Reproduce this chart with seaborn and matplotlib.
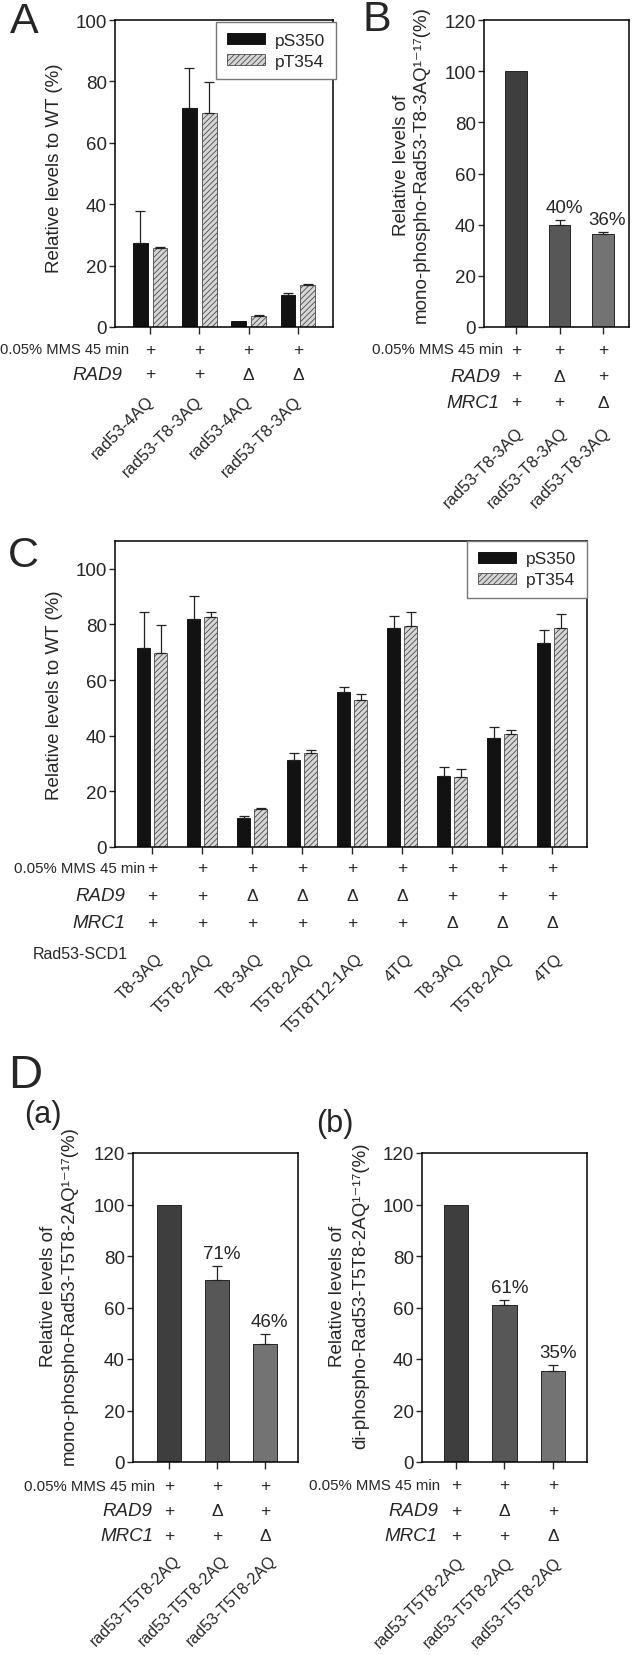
import numpy as np
import pandas as pd
import matplotlib
matplotlib.use("Agg")
import matplotlib.pyplot as plt
import matplotlib.transforms as mtransforms
from matplotlib.container import BarContainer
import seaborn as sns

# ---- data ----
sites = ["pS350", "pT354"]

A_strains = ["rad53-4AQ", "rad53-T8-3AQ", "rad53-4AQ", "rad53-T8-3AQ"]
A_rad9 = ["+", "+", "Δ", "Δ"]
A_ps350 = [27.4, 71.4, 2.0, 10.4]
A_ps350_err = [10.3, 13.1, 0.0, 0.7]
A_pt354 = [25.8, 69.8, 3.6, 13.7]
A_pt354_err = [0.4, 10.1, 0.4, 0.2]

B_strains = ["rad53-T8-3AQ", "rad53-T8-3AQ", "rad53-T8-3AQ"]
B_rad9 = ["+", "Δ", "+"]
B_mrc1 = ["+", "+", "Δ"]
B_vals = [100, 40.0, 36.5]
B_err = [0.0, 2.0, 0.8]
B_pct = ["", "40%", "36%"]

C_scd1 = ["T8-3AQ", "T5T8-2AQ", "T8-3AQ", "T5T8-2AQ", "T5T8T12-1AQ",
          "4TQ", "T8-3AQ", "T5T8-2AQ", "4TQ"]
C_rad9 = ["+", "+", "Δ", "Δ", "Δ", "Δ", "+", "+", "+"]
C_mrc1 = ["+", "+", "+", "+", "+", "+", "Δ", "Δ", "Δ"]
C_ps350 = [71.4, 81.9, 10.4, 31.2, 55.6, 78.9, 25.6, 39.3, 73.2]
C_ps350_err = [13.1, 8.5, 0.7, 2.6, 2.0, 4.3, 3.2, 4.0, 4.8]
C_pt354 = [69.8, 82.7, 13.7, 33.8, 52.9, 79.4, 25.0, 40.7, 78.8]
C_pt354_err = [10.1, 1.8, 0.2, 1.2, 2.1, 5.1, 3.2, 1.2, 4.8]

D_strains = ["rad53-T5T8-2AQ", "rad53-T5T8-2AQ", "rad53-T5T8-2AQ"]
D_rad9 = ["+", "Δ", "+"]
D_mrc1 = ["+", "+", "Δ"]
Da_vals = [100, 70.8, 45.8]
Da_err = [0.0, 5.3, 3.9]
Da_pct = ["", "71%", "46%"]
Db_vals = [100, 60.8, 35.2]
Db_err = [0.0, 2.2, 2.4]
Db_pct = ["", "61%", "35%"]

single_colors = ["#3e3e3e", "#575757", "#737373"]
MMS = "0.05% MMS 45 min"

sns.set_style("ticks")
plt.rcParams["font.family"] = ["Liberation Sans", "DejaVu Sans"]
plt.rcParams["hatch.linewidth"] = 0.6
plt.rcParams["hatch.color"] = "#4a4a4a"

W, H = 633, 1656
fig = plt.figure(figsize=(W / 100, H / 100), dpi=100)


def px_axes(l, t, r, b):
    return fig.add_axes([l / W, 1 - b / H, (r - l) / W, (b - t) / H])


def style_axes(ax, xlim, ymax, yticks):
    ax.set_xlim(xlim)
    ax.set_ylim(0, ymax)
    ax.set_yticks(yticks)
    for sp in ax.spines.values():
        sp.set_visible(True)
        sp.set_linewidth(1.1)
        sp.set_color("black")
    ax.tick_params(axis="x", length=5, width=1, labelbottom=False)
    ax.tick_params(axis="y", length=4, width=1, labelsize=13.5, pad=2)
    ax.set_xlabel("")
    ax.set_ylabel("")


def draw_err(ax, patches, errs):
    for p, e in zip(patches, errs):
        if e <= 0:
            continue
        x = p.get_x() + p.get_width() / 2
        ax.errorbar([x], [p.get_height()], yerr=[[0], [e]], fmt="none",
                    ecolor="#222222", elinewidth=0.9, capsize=3.5, capthick=0.9)


def add_errors(ax, err_lists):
    bars = [c for c in ax.containers if isinstance(c, BarContainer)]
    for cont, errs in zip(bars, err_lists):
        draw_err(ax, list(cont), errs)


def add_errors_single(ax, errs):
    # one container per hue level here, so gather all bars in x order
    patches = [p for c in ax.containers if isinstance(c, BarContainer) for p in c]
    patches.sort(key=lambda p: p.get_x())
    draw_err(ax, patches, errs)


def grouped(ax, s1, s2, width, gap):
    n = len(s1)
    df = pd.DataFrame({"pos": list(range(n)) * 2,
                       "site": [sites[0]] * n + [sites[1]] * n,
                       "level": s1 + s2})
    sns.barplot(data=df, x="pos", y="level", hue="site", hue_order=sites,
                palette={sites[0]: "#121212", sites[1]: "#d6d6d6"},
                width=width, gap=gap, errorbar=None, legend=False, ax=ax,
                linewidth=0.6)
    bars = [c for c in ax.containers if isinstance(c, BarContainer)]
    for p in bars[0]:
        p.set_edgecolor("#000000")
    for p in bars[1]:
        p.set_edgecolor("#4a4a4a")
        p.set_hatch("//////")
    return bars


def single(ax, vals):
    df = pd.DataFrame({"pos": [str(i) for i in range(len(vals))], "level": vals})
    sns.barplot(data=df, x="pos", y="level", hue="pos", palette=single_colors,
                width=0.5, errorbar=None, legend=False, ax=ax,
                edgecolor="#252525", linewidth=0.7)


def add_legend(ax, bars, anchor):
    ax.legend([bars[0], bars[1]], sites, loc="upper right", bbox_to_anchor=anchor,
              borderaxespad=0, fontsize=12.5, fancybox=False, framealpha=1,
              edgecolor="#777777", handlelength=2.2, handleheight=0.55,
              borderpad=0.6, labelspacing=0.35, handletextpad=0.6)


def rows(ax, specs):
    # specs: (y_px, label, label_right_px, symbols, italic, label_size)
    tr = mtransforms.blended_transform_factory(ax.transData, fig.transFigure)
    for y_px, label, lx, symbols, italic, lsize in specs:
        fy = 1 - y_px / H
        fig.text(lx / W, fy, label, ha="right", va="center", fontsize=lsize,
                 style="italic" if italic else "normal")
        for i, s in enumerate(symbols):
            ax.text(i, fy, s, transform=tr, ha="center", va="center", fontsize=12.5)


def rotated(ax, labels, y_px, dx_px, size=12):
    tr = mtransforms.blended_transform_factory(ax.transData, fig.transFigure)
    tr = mtransforms.offset_copy(tr, fig=fig, x=dx_px, y=0, units="dots")
    for i, s in enumerate(labels):
        ax.text(i, 1 - y_px / H, s, transform=tr, rotation=45, ha="right",
                va="center", rotation_mode="anchor", fontsize=size)


def pct_labels(ax, vals, errs, labels):
    for i, (v, e, s) in enumerate(zip(vals, errs, labels)):
        if s:
            ax.text(i + 0.1, v + e + 1.5, s, ha="center", va="bottom", fontsize=13.5)


def ylab(x_px, y_px, text, ls=1.2):
    fig.text(x_px / W, 1 - y_px / H, text, rotation=90, ha="center", va="center",
             fontsize=13.5, multialignment="center", linespacing=ls)


# ---- panel A ----
axA = px_axes(115, 21, 333, 328)
barsA = grouped(axA, A_ps350, A_pt354, 0.81, 0.25)
add_errors(axA, [A_ps350_err, A_pt354_err])
style_axes(axA, (-0.71, 3.71), 100, range(0, 101, 20))
add_legend(axA, barsA, (1.013, 0.993))
rows(axA, [(350, MMS, 129, ["+"] * 4, False, 10.6),
           (375, "RAD9", 122, A_rad9, True, 13.5)])
rotated(axA, A_strains, 399, 1)
ylab(55, 168, "Relative levels to WT (%)")

# ---- panel B ----
axB = px_axes(484, 21, 629, 328)
single(axB, B_vals)
add_errors_single(axB, B_err)
style_axes(axB, (-0.74, 2.6), 120, range(0, 121, 20))
pct_labels(axB, B_vals, B_err, B_pct)
rows(axB, [(350, MMS, 503, ["+"] * 3, False, 10.8),
           (377, "RAD9", 500, B_rad9, True, 13.5),
           (403, "MRC1", 499, B_mrc1, True, 13.5)])
rotated(axB, B_strains, 430, 5)
ylab(411, 165, "Relative levels of\nmono-phospho-Rad53-T8-3AQ¹⁻¹⁷(%)")

# ---- panel C ----
axC = px_axes(115, 542, 587, 848)
barsC = grouped(axC, C_ps350, C_pt354, 0.68, 0.235)
add_errors(axC, [C_ps350_err, C_pt354_err])
style_axes(axC, (-0.74, 8.7), 110, range(0, 101, 20))
add_legend(axC, barsC, (1.0, 1.0))
rows(axC, [(869, MMS, 145, ["+"] * 9, False, 10.8),
           (897, "RAD9", 125, C_rad9, True, 13.5),
           (924, "MRC1", 125, C_mrc1, True, 13.5)])
fig.text(128 / W, 1 - 955 / H, "Rad53-SCD1", ha="right", va="center", fontsize=11.5)
rotated(axC, C_scd1, 957, 8)
ylab(55, 695, "Relative levels to WT (%)")

# ---- panel D (a) ----
axDa = px_axes(133, 1154, 298, 1463)
single(axDa, Da_vals)
add_errors_single(axDa, Da_err)
style_axes(axDa, (-0.75, 2.69), 120, range(0, 121, 20))
pct_labels(axDa, Da_vals, Da_err, Da_pct)
rows(axDa, [(1487, MMS, 155, ["+"] * 3, False, 10.8),
            (1512, "RAD9", 152, D_rad9, True, 13.5),
            (1537, "MRC1", 153, D_mrc1, True, 13.5)])
rotated(axDa, D_strains, 1558, 9, 11.5)
ylab(59, 1296, "Relative levels of\nmono-phospho-Rad53-T5T8-2AQ¹⁻¹⁷(%)", 1.3)

# ---- panel D (b) ----
axDb = px_axes(422, 1154, 587, 1463)
single(axDb, Db_vals)
add_errors_single(axDb, Db_err)
style_axes(axDb, (-0.7, 2.7), 120, range(0, 121, 20))
pct_labels(axDb, Db_vals, Db_err, Db_pct)
rows(axDb, [(1486, MMS, 440, ["+"] * 3, False, 10.8),
            (1512, "RAD9", 438, D_rad9, True, 13.5),
            (1537, "MRC1", 437, D_mrc1, True, 13.5)])
rotated(axDb, D_strains, 1560, 6, 11.5)
ylab(349, 1296, "Relative levels of\ndi-phospho-Rad53-T5T8-2AQ¹⁻¹⁷(%)", 1.45)

# ---- panel letters ----
for x, y, s, size in [(10, 2, "A", 31), (362, 0, "B", 31), (8, 536, "C", 31),
                      (8, 1054, "D", 34)]:
    fig.text(x / W, 1 - y / H, s, ha="left", va="top", fontsize=size)
fig.text(24 / W, 1 - 1100 / H, "(a)", ha="left", va="top", fontsize=22)
fig.text(316 / W, 1 - 1109 / H, "(b)", ha="left", va="top", fontsize=22)

fig.savefig("out.png", dpi=100)
